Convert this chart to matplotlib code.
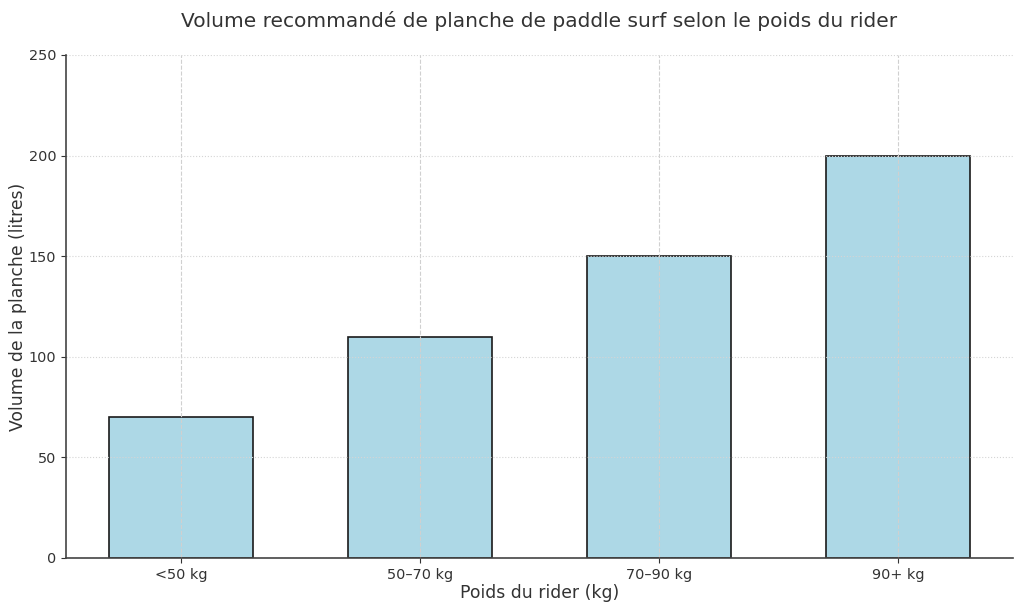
import matplotlib
matplotlib.use("Agg")
import matplotlib.pyplot as plt

categories = ["<50 kg", "50–70 kg", "70–90 kg", "90+ kg"]
volumes = [70, 110, 150, 200]

text_color = "#333333"
plt.rcParams["text.color"] = text_color
plt.rcParams["axes.labelcolor"] = text_color
plt.rcParams["xtick.color"] = text_color
plt.rcParams["ytick.color"] = text_color
plt.rcParams["xtick.labelsize"] = 10.4
plt.rcParams["ytick.labelsize"] = 10.4

fig, ax = plt.subplots(figsize=(10.24, 6.11), dpi=100)
ax.bar(categories, volumes, width=0.6, color="#ADD8E6",
       edgecolor="#1a1a1a", linewidth=1.2)

ax.set_title("Volume recommandé de planche de paddle surf selon le poids du rider",
             fontsize=14.5, pad=20)
ax.set_xlabel("Poids du rider (kg)", fontsize=12.4, labelpad=2)
ax.set_ylabel("Volume de la planche (litres)", fontsize=12.4, labelpad=1)
ax.set_ylim(0, 250)

ax.yaxis.grid(True, linestyle=":", color="#d5d5d5", linewidth=0.8)
ax.xaxis.grid(True, linestyle="--", color="#d0d0d0", linewidth=0.8)

for side in ("top", "right"):
    ax.spines[side].set_visible(False)
for side in ("left", "bottom"):
    ax.spines[side].set_color("#444444")
    ax.spines[side].set_linewidth(1.2)

fig.subplots_adjust(left=0.0645, right=0.989, top=0.91, bottom=0.087)
fig.savefig("out.png", dpi=100)
